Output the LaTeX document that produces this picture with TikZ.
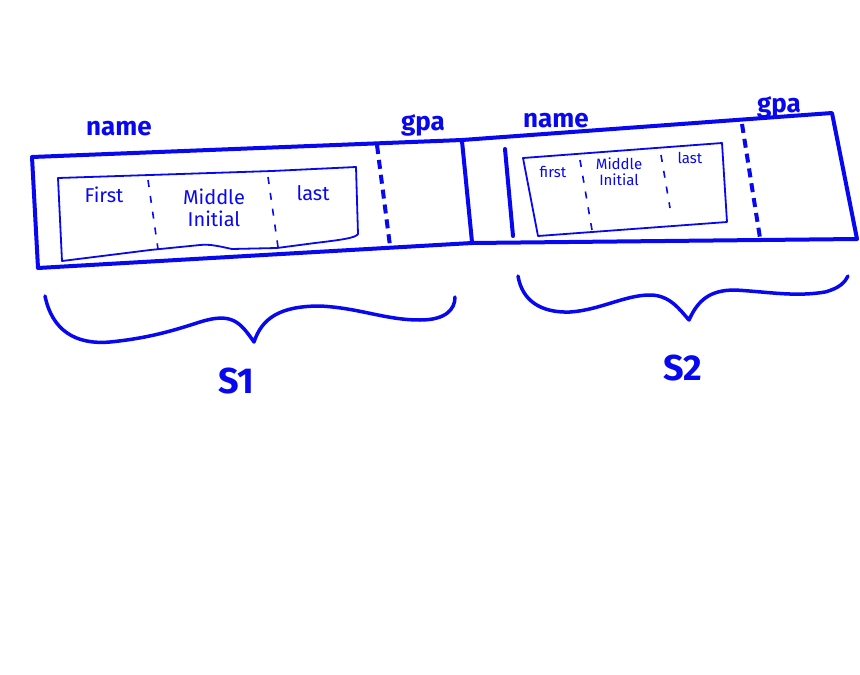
\documentclass[tikz,border=0pt]{standalone}
\usepackage{fontspec}
\setmainfont{Fira Sans}
\definecolor{ink}{RGB}{8,8,240}
\begin{document}
\begin{tikzpicture}[x=1pt,y=-1pt,
  thickline/.style={ink,line width=4pt,line cap=round,line join=round},
  thinline/.style={ink,line width=1.8pt,line cap=round,line join=round},
  gapdash/.style={ink,line width=4pt,dash pattern=on 9pt off 6pt},
  fielddash/.style={ink,line width=1.6pt,dash pattern=on 7pt off 9pt},
  bracestyle/.style={ink,line width=3.5pt,line cap=round,line join=round},
  lbl/.style={ink,font=\fontsize{26}{26}\selectfont\bfseries,inner sep=0pt},
  fld/.style={ink,font=\fontsize{20}{22}\selectfont,inner sep=0pt,align=center},
  fldsm/.style={ink,font=\fontsize{15}{16}\selectfont,inner sep=0pt,align=center},
  slbl/.style={ink,font=\fontsize{36}{36}\selectfont\bfseries,inner sep=0pt}]
\useasboundingbox (0,0) rectangle (860,675);
\fill[white] (0,0) rectangle (860,675);

% outer band corners
\coordinate (tl) at (32,157);
\coordinate (tm) at (462,140);
\coordinate (tr) at (832,113);
\coordinate (br) at (857,239);
\coordinate (bm) at (472,243);
\coordinate (bl) at (38,268);
\draw[thickline] (tl) -- (tm) -- (tr) -- (br) -- (bm) -- (bl) -- cycle;
% solid dividers
\coordinate (d1t) at (462,141);
\coordinate (d1b) at (472,242);
\draw[thickline] (d1t) -- (d1b);
\coordinate (d2t) at (505,149);
\coordinate (d2b) at (513,236);
\draw[thickline] (d2t) -- (d2b);
% gap dashed dividers
\coordinate (g1t) at (377,145);
\coordinate (g1b) at (390,246);
\draw[gapdash] (g1t) -- (g1b);
\coordinate (g2t) at (742,124);
\coordinate (g2b) at (760,238);
\draw[gapdash] (g2t) -- (g2b);

% inner box 1
\coordinate (a1) at (58,178);
\coordinate (a2) at (356,167);
\coordinate (a3) at (358,234);
\coordinate (a4) at (62,261);
\draw[thinline] (a1) -- (272,171) -- (a2) -- (a3)
  .. controls (356,238) and (340,240) .. (315,243)
  -- (277,248) -- (232,249)
  .. controls (218,246) and (210,244) .. (200,245)
  -- (150,250) -- (a4) -- cycle;
\coordinate (f1t) at (148,180);
\coordinate (f1b) at (158,249);
\draw[fielddash] (f1t) -- (f1b);
\coordinate (f2t) at (268,177);
\coordinate (f2b) at (278,247);
\draw[fielddash] (f2t) -- (f2b);
\node[fld] (first1) at (104,195) {First};
\node[fld] (middle1) at (214,208) {Middle\\Initial};
\node[fld] (last1) at (313,193) {last};

% inner box 2
\coordinate (b1) at (523,158);
\coordinate (b2) at (722,143);
\coordinate (b3) at (727,222);
\coordinate (b4) at (538,236);
\draw[thinline] (b1) -- (b2) -- (b3) -- (b4) -- cycle;
\coordinate (h1t) at (580,160);
\coordinate (h1b) at (592,230);
\draw[fielddash] (h1t) -- (h1b);
\coordinate (h2t) at (661,155);
\coordinate (h2b) at (670,208);
\draw[fielddash] (h2t) -- (h2b);
\node[fldsm] (first2) at (553,172) {first};
\node[fldsm] (middle2) at (619,172) {Middle\\Initial};
\node[fldsm] (last2) at (690,158) {last};

% labels
\node[lbl] (name1) at (119,129) {name};
\node[lbl] (gap1) at (423,125) {gpa};
\node[lbl] (name2) at (556,121) {name};
\node[lbl] (gap2) at (779,107) {gpa};

% braces
\coordinate (s1l) at (45,296);
\coordinate (s1tip) at (254,342);
\coordinate (s1r) at (455,297);
\draw[bracestyle] (s1l) .. controls (52,330) and (75,345) .. (110,342)
  .. controls (150,338) and (175,330) .. (200,322)
  .. controls (232,312) and (240,322) .. (s1tip)
  .. controls (262,318) and (280,306) .. (320,306)
  .. controls (360,308) and (385,320) .. (420,320)
  .. controls (445,320) and (455,310) .. (s1r);
\coordinate (s2l) at (518,276);
\coordinate (s2tip) at (689,320);
\coordinate (s2r) at (848,276);
\draw[bracestyle] (s2l) .. controls (522,300) and (540,313) .. (570,312)
  .. controls (600,310) and (625,295) .. (650,295)
  .. controls (670,295) and (680,310) .. (s2tip)
  .. controls (698,300) and (710,290) .. (735,290)
  .. controls (770,292) and (795,297) .. (825,292)
  .. controls (840,288) and (845,282) .. (s2r);
\node[slbl] (S1) at (236,381) {S1};
\node[slbl] (S2) at (683,368) {S2};
\end{tikzpicture}
\end{document}
